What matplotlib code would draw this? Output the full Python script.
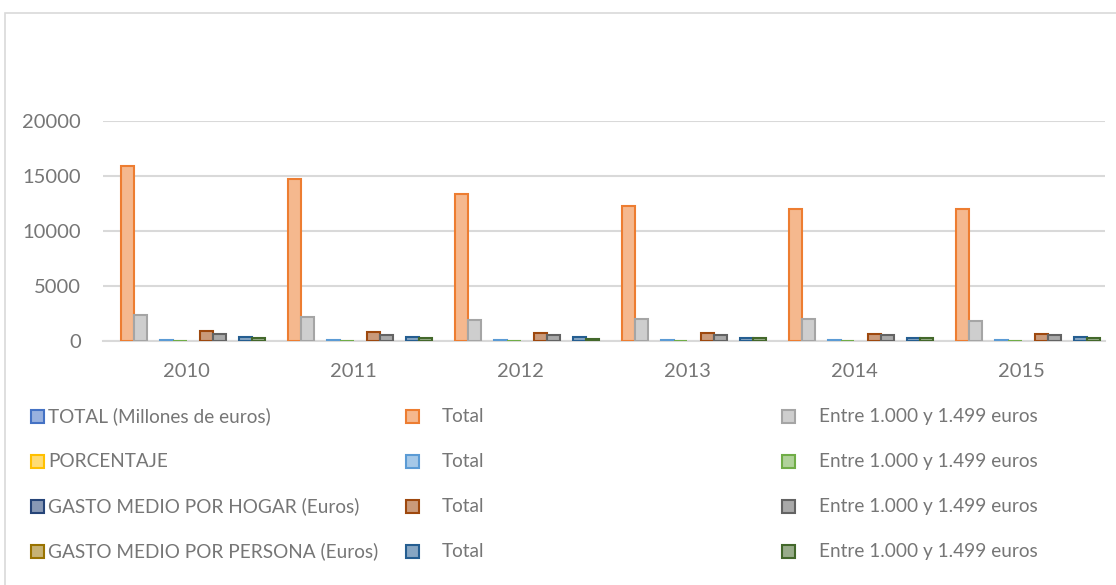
import matplotlib.pyplot as plt
from matplotlib.patches import Rectangle
from matplotlib.colors import to_rgb
import numpy as np

plt.rcParams['font.family'] = ['Lato', 'DejaVu Sans']

years = ['2010', '2011', '2012', '2013', '2014', '2015']
nan = np.nan

# series in Excel order (legend is read row by row)
labels = ['TOTAL (Millones de euros)', 'Total', 'Entre 1.000 y 1.499 euros',
          'PORCENTAJE', 'Total', 'Entre 1.000 y 1.499 euros',
          'GASTO MEDIO POR HOGAR (Euros)', 'Total', 'Entre 1.000 y 1.499 euros',
          'GASTO MEDIO POR PERSONA (Euros)', 'Total', 'Entre 1.000 y 1.499 euros']

total_millones_hdr = [nan, nan, nan, nan, nan, nan]
total_millones = [15900, 14700, 13380, 12300, 12000, 12000]
tramo_millones = [2330, 2160, 1890, 2040, 1970, 1850]
porcentaje_hdr = [nan, nan, nan, nan, nan, nan]
porcentaje_total = [100, 100, 100, 100, 100, 100]
porcentaje_tramo = [15, 15, 14, 17, 16, 15]
hogar_hdr = [nan, nan, nan, nan, nan, nan]
hogar_total = [890, 800, 710, 700, 640, 670]
hogar_tramo = [620, 590, 530, 545, 545, 515]
persona_hdr = [nan, nan, nan, nan, nan, nan]
persona_total = [380, 345, 320, 310, 310, 335]
persona_tramo = [255, 255, 200, 245, 245, 270]

series = [total_millones_hdr, total_millones, tramo_millones,
          porcentaje_hdr, porcentaje_total, porcentaje_tramo,
          hogar_hdr, hogar_total, hogar_tramo,
          persona_hdr, persona_total, persona_tramo]

colors = ['#4472C4', '#ED7D31', '#A5A5A5', '#FFC000', '#5B9BD5', '#70AD47',
          '#264478', '#9E480E', '#636363', '#997300', '#255E91', '#43682B']


def light(c, k=0.5):
    r, g, b = to_rgb(c)
    return (r + (1 - r) * k, g + (1 - g) * k, b + (1 - b) * k)


W, H = 1116, 585
fig = plt.figure(figsize=(W / 100, H / 100), dpi=100)
ax = fig.add_axes([103 / W, 1 - 341 / H, (1105 - 103) / W, (341 - 121) / H])

x = np.arange(len(years))
bw = 0.078
n = len(series)
for i, vals in enumerate(series):
    off = (i - (n - 1) / 2) * bw
    ax.bar(x + off, vals, bw, color=light(colors[i], 0.45),
           edgecolor=colors[i], linewidth=1.5, zorder=3)

ax.set_xlim(-0.5, len(years) - 0.5)
ax.set_ylim(0, 20000)
ax.set_yticks([0, 5000, 10000, 15000, 20000])
ax.set_xticks(x)
ax.set_xticklabels(years)
ax.yaxis.grid(True, color='#D9D9D9', linewidth=1.5, zorder=0)
ax.set_axisbelow(True)
for s in ['top', 'right', 'left']:
    ax.spines[s].set_visible(False)
ax.spines['bottom'].set_color('#D9D9D9')
ax.spines['bottom'].set_linewidth(1.5)
ax.tick_params(axis='both', length=0, labelsize=14.5, labelcolor='#767676')
ax.tick_params(axis='y', pad=16)
ax.tick_params(axis='x', pad=16)

# chart border (cut at right and bottom in the original)
fig.add_artist(Rectangle((5 / W, -0.1), 1.2, (1 - 13 / H) + 0.1,
                         transform=fig.transFigure, fill=False,
                         edgecolor='#D9D9D9', linewidth=1.2))

# legend drawn by hand: 4 rows x 3 columns
row_y = [416.5, 461.5, 506.5, 551.5]
box_x = [31, 406, 782]
text_x = [48, 442, 819]
sq = 13
for i, lab in enumerate(labels):
    r, c = i // 3, i % 3
    yc = row_y[r]
    fig.add_artist(Rectangle((box_x[c] / W, 1 - (yc + sq / 2) / H), sq / W, sq / H,
                             transform=fig.transFigure,
                             facecolor=light(colors[i], 0.45),
                             edgecolor=colors[i], linewidth=1.5))
    fig.text(text_x[c] / W, 1 - yc / H, lab, ha='left', va='center',
             fontsize=13.7, color='#767676')

fig.savefig('out.png', dpi=100)
